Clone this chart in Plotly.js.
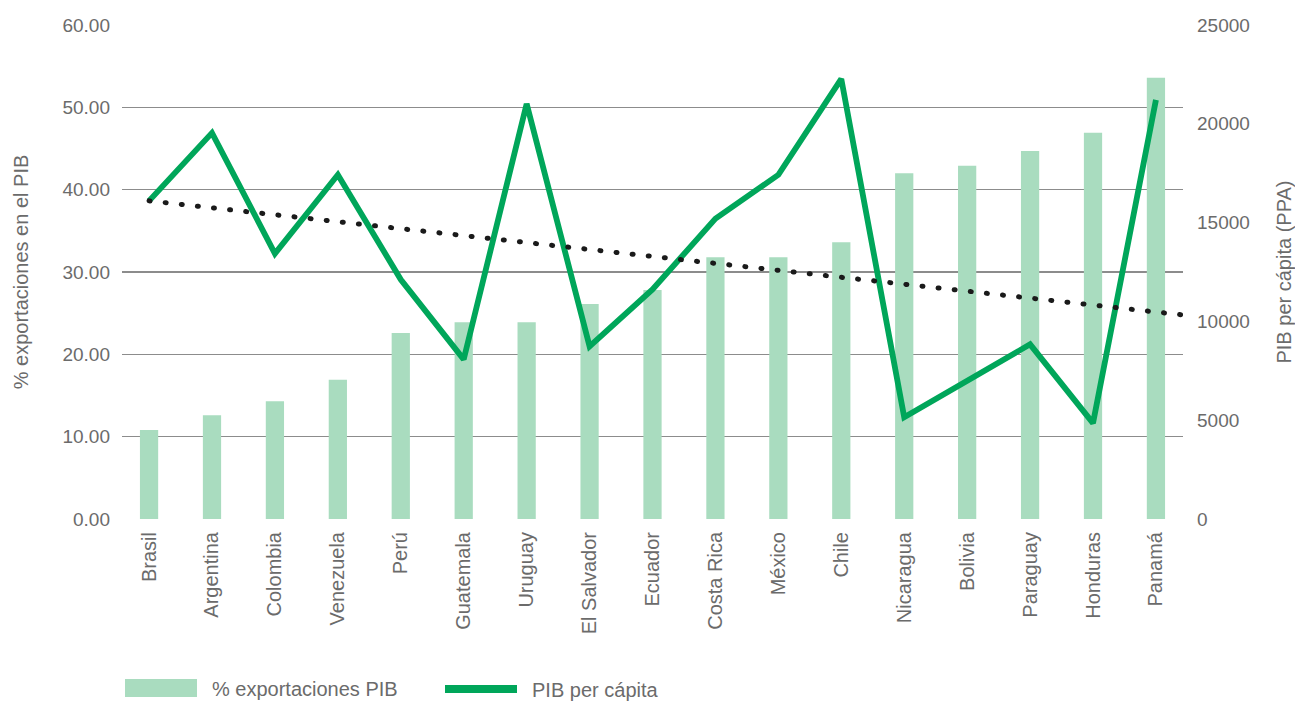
<!DOCTYPE html>
<html>
<head>
<meta charset="utf-8">
<script src="https://cdn.plot.ly/plotly-3.0.1.min.js"></script>
<style>
  html, body { margin: 0; padding: 0; background: #fff; }
  #chart { width: 1295px; height: 702px; }
</style>
</head>
<body>
<div id="chart"></div>
<script>
// ---- data ----
const categories = ["Brasil", "Argentina", "Colombia", "Venezuela", "Perú", "Guatemala", "Uruguay",
  "El Salvador", "Ecuador", "Costa Rica", "México", "Chile", "Nicaragua", "Bolivia", "Paraguay",
  "Honduras", "Panamá"];
const exportShare = [10.8, 12.6, 14.3, 16.9, 22.6, 23.9, 23.9, 26.1, 27.8, 31.8, 31.8, 33.6,
  42.0, 42.9, 44.7, 46.9, 53.6];
const gdpPerCapita = [16100, 19540, 13430, 17420, 12120, 8080, 21010, 8740, 11620, 15200, 17420,
  22270, 5150, 6970, 8840, 4850, 21210];
// linear trend line (start at first country, extended half a category beyond the last)
const trendX = [0, 16.5];
const trendY = [16100, 10300];
const leftTicks = [0, 10, 20, 30, 40, 50, 60];
const rightTicks = [0, 5000, 10000, 15000, 20000, 25000];
const seriesNames = ["% exportaciones PIB", "PIB per cápita"];

const xIdx = categories.map((c, i) => i);
const textColor = "#6b6b6b";
const barColor = "#a9dcbf";
const lineColor = "#00a65a";
const FONT = "Liberation Sans, Arial, sans-serif";

const traces = [
  {
    type: "bar", name: seriesNames[0], x: xIdx, y: exportShare, yaxis: "y",
    width: 0.29, marker: { color: barColor }, hoverinfo: "x+y"
  },
  {
    type: "scatter", mode: "lines", name: seriesNames[1], x: xIdx, y: gdpPerCapita, yaxis: "y2",
    line: { color: lineColor, width: 5.8 }
  },
  {
    type: "scatter", mode: "lines", name: "Tendencia", x: trendX, y: trendY, yaxis: "y2",
    line: { color: "#1a1a1a", width: 5, dash: "1px,15.2px" }, cliponaxis: false, hoverinfo: "skip"
  }
];

// custom legend (paper coordinates)
const W = 1061, H = 494, L = 122, T = 25;
const px = v => (v - L) / W;
const py = v => (T + H - v) / H;

const layout = {
  width: 1295, height: 702,
  margin: { l: 122, r: 112, t: 25, b: 183 },
  paper_bgcolor: "#ffffff", plot_bgcolor: "#ffffff",
  showlegend: false,
  font: { family: FONT, color: textColor, size: 19 },
  xaxis: {
    type: "linear", range: [-0.43, 16.43],
    tickmode: "array", tickvals: xIdx, ticktext: categories,
    tickangle: -90, showgrid: false, zeroline: false, showline: false, ticks: "",
    tickfont: { family: FONT, size: 20, color: textColor },
    ticklabelstandoff: 8, fixedrange: true
  },
  yaxis: {
    range: [0, 60], tickmode: "array", tickvals: leftTicks, tickformat: ".2f",
    showgrid: true, gridcolor: "#8c8c8c", gridwidth: 1.2, zeroline: false, showline: false,
    tickfont: { family: FONT, size: 19, color: textColor },
    ticklabelstandoff: 11,
    title: { text: "% exportaciones en el PIB", font: { family: FONT, size: 20, color: textColor }, standoff: 28 }
  },
  yaxis2: {
    overlaying: "y", side: "right", range: [0, 25000],
    tickmode: "array", tickvals: rightTicks, tickformat: "d",
    showgrid: false, zeroline: false, showline: false,
    tickfont: { family: FONT, size: 19, color: textColor },
    ticklabelstandoff: 13,
    title: { text: "PIB per cápita (PPA)", font: { family: FONT, size: 20, color: textColor }, standoff: 29 }
  },
  shapes: [
    { type: "rect", xref: "paper", yref: "paper", x0: px(125), x1: px(197), y0: py(679), y1: py(697),
      fillcolor: barColor, line: { width: 0 } },
    { type: "rect", xref: "paper", yref: "paper", x0: px(445), x1: px(517), y0: py(685), y1: py(693),
      fillcolor: lineColor, line: { width: 0 } }
  ],
  annotations: [
    { xref: "paper", yref: "paper", x: px(210), y: py(689), xanchor: "left", yanchor: "middle",
      text: seriesNames[0], showarrow: false, font: { family: FONT, size: 20, color: textColor } },
    { xref: "paper", yref: "paper", x: px(530), y: py(690), xanchor: "left", yanchor: "middle",
      text: seriesNames[1], showarrow: false, font: { family: FONT, size: 20, color: textColor } }
  ]
};

Plotly.newPlot("chart", traces, layout, { displayModeBar: false, staticPlot: true }).then(gd => {
  const paths = gd.querySelectorAll(".scatterlayer .trace");
  if (paths.length >= 2) {
    const p = paths[paths.length - 1].querySelector("path.js-line");
    if (p) p.style.strokeLinecap = "round";
  }
});
</script>
</body>
</html>
